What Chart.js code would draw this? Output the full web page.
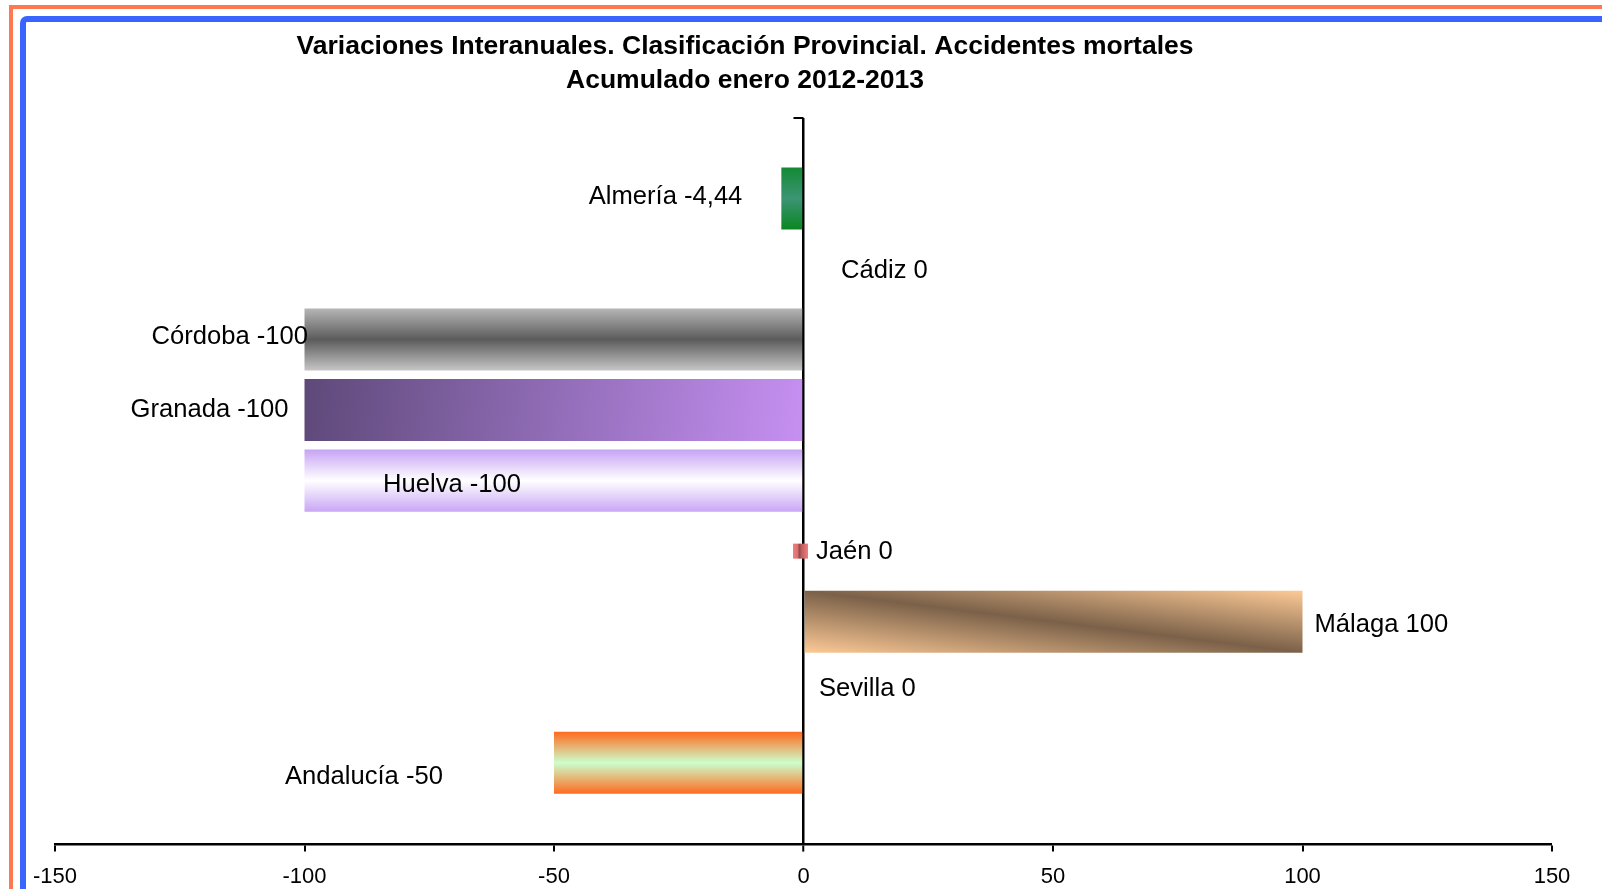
<!DOCTYPE html>
<html>
<head>
<meta charset="utf-8">
<script src="https://cdn.jsdelivr.net/npm/chart.js@4.4.1/dist/chart.umd.min.js"></script>
<style>
  html, body { margin: 0; padding: 0; background: #ffffff; overflow: hidden; }
  #wrap { position: relative; width: 1602px; height: 889px; overflow: hidden; }
  .frame-o { position: absolute; left: 9px; top: 5px; width: 4000px; height: 4000px;
    border-left: 4px solid #ff7852; border-top: 4px solid #ff7852; }
  .frame-b { position: absolute; left: 20px; top: 16px; width: 4000px; height: 4000px;
    border-left: 6px solid #3a64ff; border-top: 6px solid #3a64ff; border-top-left-radius: 7px; }
  canvas { position: absolute; left: 0; top: 0; }
</style>
</head>
<body>
<div id="wrap">
  <div class="frame-o"></div>
  <div class="frame-b"></div>
  <canvas id="c" width="1602" height="889"></canvas>
</div>
<script>
// ---- data ----
const titleLines = ['Variaciones Interanuales. Clasificación Provincial. Accidentes mortales', 'Acumulado enero 2012-2013'];
const categories = ['Almería', 'Cádiz', 'Córdoba', 'Granada', 'Huelva', 'Jaén', 'Málaga', 'Sevilla', 'Andalucía'];
const values = [-4.44, 0, -100, -100, -100, 0, 100, 0, -50];
const xTicks = [-150, -100, -50, 0, 50, 100, 150];

// ---- styles (gradient kind + stops per category) ----
const barStyles = [
  { kind: 'v', stops: [[0, '#138a33'], [0.5, '#3c9474'], [1, '#0b8620']] },
  { kind: 'v', stops: [[0, '#cccccc'], [1, '#cccccc']] },
  { kind: 'v', stops: [[0, '#b6b6b6'], [0.5, '#5b5b5b'], [1, '#c6c6c6']] },
  { kind: 'd', stops: [[0, '#5e4979'], [0.55, '#9670bd'], [1, '#c690f2']] },
  { kind: 'v', stops: [[0, '#c7a3f4'], [0.5, '#ffffff'], [1, '#c9a6f5']] },
  { kind: 'h', stops: [[0, '#f27d7d'], [0.3, '#e07070'], [0.42, '#8e4c4c'], [0.58, '#c25e5e'], [1, '#f27d7d']] },
  { kind: 'band', stops: [[0, '#fdca96'], [0.5, '#7b6149'], [1, '#fdca96']] },
  { kind: 'v', stops: [[0, '#cccccc'], [1, '#cccccc']] },
  { kind: 'v', stops: [[0, '#ff6a1e'], [0.5, '#ccffcc'], [1, '#ff6a1e']] }
];
// label placement relative to bar end: [align, dx, dy]
const labelLayout = [
  ['right', -39, -1], ['left', 37.5, 2], ['right', 3.5, -3], ['right', -16, 0], ['left', 78.5, 4],
  ['left', 12.5, 1], ['left', 12, 3], ['left', 15.5, -3], ['left', -269, 14]
];
const BAR_PCT = 0.88;
const FONT = '"Liberation Sans", Arial, sans-serif';

function fmt(v) { return String(v).replace('.', ','); }

function makeGradient(g, st, x0, x1, top, bot) {
  let grad;
  const w = x1 - x0, h = bot - top, cx = (x0 + x1) / 2, cy = (top + bot) / 2;
  if (st.kind === 'v') grad = g.createLinearGradient(0, top, 0, bot);
  else if (st.kind === 'h') grad = g.createLinearGradient(x0, 0, x1, 0);
  else if (st.kind === 'd') grad = g.createLinearGradient(x0, top, x1, bot);
  else {
    const L2 = w * w + h * h, k = (w * h) / L2;
    grad = g.createLinearGradient(cx + h * k, cy - w * k, cx - h * k, cy + w * k);
  }
  st.stops.forEach(s => grad.addColorStop(s[0], s[1]));
  return grad;
}

function barFill(ctx) {
  const chart = ctx.chart, i = ctx.dataIndex;
  const xs = chart.scales.x, ys = chart.scales.y;
  if (!xs || !ys || !chart.chartArea) return '#888';
  const a = xs.getPixelForValue(0), b = xs.getPixelForValue(values[i]);
  const step = Math.abs(ys.getPixelForValue(1) - ys.getPixelForValue(0));
  const yc = ys.getPixelForValue(i), half = step * BAR_PCT / 2;
  return makeGradient(chart.ctx, barStyles[i], Math.min(a, b), Math.max(a, b), yc - half, yc + half);
}

const titlePlugin = {
  id: 'twoLineTitle',
  afterDraw(chart) {
    const g = chart.ctx;
    g.save();
    g.fillStyle = '#000';
    g.font = 'bold 26.5px ' + FONT;
    g.textAlign = 'center';
    g.textBaseline = 'middle';
    g.fillText(titleLines[0], 745, 47);
    g.fillText(titleLines[1], 745, 81);
    g.restore();
  }
};

// small tick at the top end of the vertical (zero) axis
const axisTopTick = {
  id: 'axisTopTick',
  afterDraw(chart) {
    const g = chart.ctx, xs = chart.scales.x, top = chart.chartArea.top;
    const x0 = xs.getPixelForValue(0);
    g.save();
    g.strokeStyle = '#000';
    g.lineWidth = 2;
    g.beginPath();
    g.moveTo(x0 - 10, top);
    g.lineTo(x0, top);
    g.stroke();
    g.restore();
  }
};

const zeroMarkerPlugin = {
  id: 'zeroMarker',
  afterDatasetsDraw(chart) {
    const meta = chart.getDatasetMeta(0), g = chart.ctx;
    meta.data.forEach((el, i) => {
      if (values[i] !== 0 || barStyles[i].kind !== 'h') return;
      const x0 = el.x - 10.5, x1 = el.x + 4.5, t = el.y - 7.5, b = el.y + 7.5;
      g.save();
      g.fillStyle = makeGradient(g, barStyles[i], x0, x1, t, b);
      g.fillRect(x0, t, x1 - x0, b - t);
      g.restore();
    });
  }
};

const labelPlugin = {
  id: 'barLabels',
  afterDraw(chart) {
    const meta = chart.getDatasetMeta(0), g = chart.ctx;
    g.save();
    g.fillStyle = '#000';
    g.font = '25.6px ' + FONT;
    g.textBaseline = 'middle';
    meta.data.forEach((el, i) => {
      const [al, dx, dy] = labelLayout[i];
      g.textAlign = al;
      g.fillText(categories[i] + ' ' + fmt(values[i]), el.x + dx, el.y + dy);
    });
    g.restore();
  }
};

new Chart(document.getElementById('c'), {
  type: 'bar',
  data: {
    datasets: [{
      data: values.map((v, i) => ({ x: v, y: i })),
      backgroundColor: barFill,
      borderWidth: 0,
      categoryPercentage: 1,
      barPercentage: BAR_PCT
    }]
  },
  options: {
    indexAxis: 'y',
    responsive: false,
    animation: false,
    devicePixelRatio: 1,
    layout: { padding: { left: 55, right: 50, top: 118, bottom: -13 } },
    plugins: { legend: { display: false }, tooltip: { enabled: false }, title: { display: false } },
    scales: {
      x: {
        type: 'linear', position: 'bottom', min: -150, max: 150, z: 1,
        afterBuildTicks: s => { s.ticks = xTicks.map(v => ({ value: v })); },
        ticks: { color: '#000', font: { size: 22, family: FONT }, padding: 12, maxRotation: 0 },
        grid: {
          drawOnChartArea: true, drawTicks: true, tickLength: 7, tickColor: '#000', tickWidth: 2,
          color: c => (c.tick && c.tick.value === 0 ? '#000' : 'rgba(0,0,0,0)'),
          lineWidth: c => (c.tick && c.tick.value === 0 ? 2.5 : 0)
        },
        border: { display: true, color: '#000', width: 2.5 }
      },
      y: {
        type: 'linear', reverse: true, min: -1.14, max: 9.16, offset: false,
        display: false,
        grid: { offset: false }
      }
    }
  },
  plugins: [zeroMarkerPlugin, labelPlugin, titlePlugin, axisTopTick]
});
</script>
</body>
</html>
